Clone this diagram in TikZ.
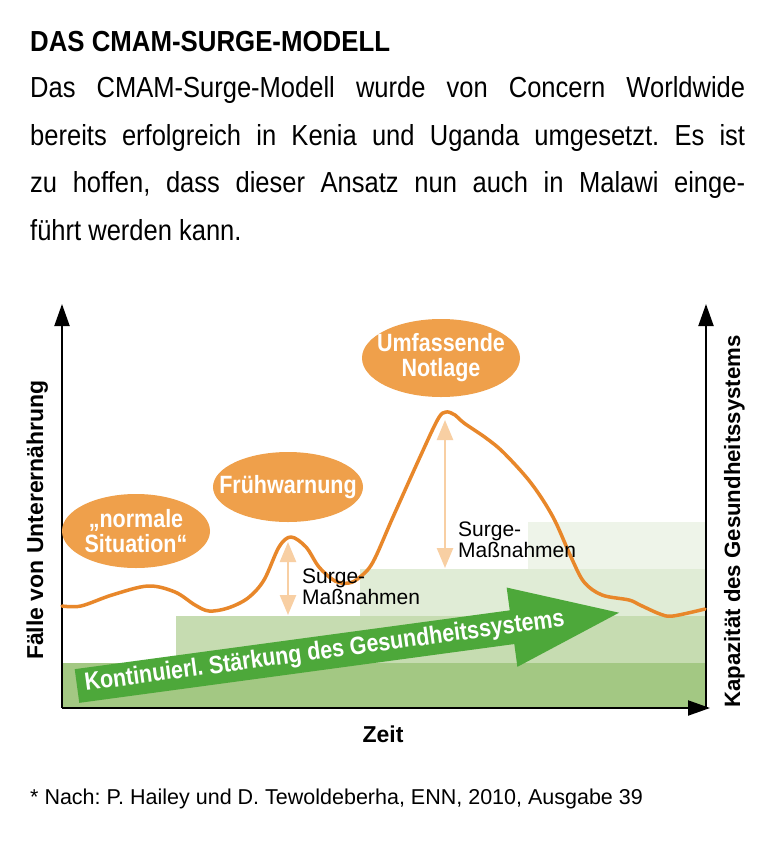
\documentclass[tikz,border=0pt]{standalone}
\usepackage{fontspec}
\setmainfont{Liberation Sans}
\newfontfamily\bodyfont[FakeStretch=0.88]{Liberation Sans}
\newfontfamily\condfont[FakeStretch=0.86]{Liberation Sans}
\newfontfamily\titlefont[FakeStretch=0.89]{Liberation Sans}
\usetikzlibrary{arrows.meta,shapes.geometric}
\frenchspacing
\definecolor{curveor}{RGB}{232,135,42}
\definecolor{ellor}{RGB}{239,160,75}
\definecolor{peach}{RGB}{248,207,163}
\definecolor{arrgreen}{RGB}{77,168,58}
\definecolor{bandA}{RGB}{163,200,131}
\definecolor{bandB}{RGB}{198,220,177}
\definecolor{bandC}{RGB}{224,236,214}
\definecolor{bandD}{RGB}{238,244,233}
\begin{document}
\begin{tikzpicture}[x=1pt,y=-1pt,
  axis/.style={line width=2pt,-{Triangle[width=15pt,length=22pt]}},
  bubble/.style={ellipse, fill=ellor, inner sep=0pt},
  bubtxt/.style={text=white, font=\condfont\bfseries\fontsize{25}{25}\selectfont, align=center, inner sep=0pt},
  surge/.style={line width=2.5pt, draw=peach, {Triangle[width=16pt,length=20pt]}-{Triangle[width=16pt,length=20pt]}},
  surgetxt/.style={font=\fontsize{21}{21}\selectfont, inner sep=0pt, anchor=base west},
  para/.style={font=\bodyfont\fontsize{29}{29}\selectfont, inner sep=0pt, anchor=base west},
  axlabel/.style={font=\bfseries\fontsize{23}{23}\selectfont, inner sep=0pt}
]
\useasboundingbox (0,0) rectangle (772,844);
\fill[white] (0,0) rectangle (772,844);

% heading and paragraph
\node[inner sep=0pt, anchor=base west, font=\titlefont\bfseries\fontsize{29}{29}\selectfont] (title) at (30,51) {DAS CMAM-SURGE-MODELL};
\node[para] (l1) at (30,97.5) {\makebox[715pt][s]{Das CMAM-Surge-Modell wurde von Concern Worldwide}};
\node[para] (l2) at (30,145.5) {\makebox[715pt][s]{bereits erfolgreich in Kenia und Uganda umgesetzt. Es ist}};
\node[para] (l3) at (30,192.5) {\makebox[715pt][s]{zu hoffen, dass dieser Ansatz nun auch in Malawi einge-}};
\node[para] (l4) at (30,240) {führt werden kann.};

% capacity bands
\fill[bandA] (62,663) rectangle (706,708);
\fill[bandB] (176,616) rectangle (706,663);
\fill[bandC] (360,569) rectangle (706,616);
\fill[bandD] (528,522) rectangle (706,569);

% green arrow
\begin{scope}[shift={(77,686)}, rotate=7.7]
  \fill[arrgreen] (0,-17) -- (439,-17) -- (439,-40) -- (547,0) -- (439,40) -- (439,17) -- (0,17) -- cycle;
  \node[transform shape, anchor=base, inner sep=0pt, text=white, font=\condfont\bfseries\fontsize{25}{25}\selectfont] (gtxt) at (250,6) {Kontinuierl. Stärkung des Gesundheitssystems};
\end{scope}

% axes
\coordinate (O) at (62,708);
\coordinate (ytop) at (62,304);
\coordinate (xend) at (710,708);
\coordinate (rbot) at (706,708);
\coordinate (rtop) at (706,304);
\draw[axis] (O) -- (ytop);
\draw[axis] (rbot) -- (rtop);
\draw[axis] (O) -- (xend);

% surge arrows
\coordinate (s1t) at (288,542);
\coordinate (s1b) at (288,615);
\coordinate (s2t) at (445,420);
\coordinate (s2b) at (445,568);
\draw[surge] (s1t) -- (s1b);
\draw[surge] (s2t) -- (s2b);

% malnutrition curve
\draw[curveor, line width=3.5pt, line cap=round, line join=round] plot[smooth, tension=0.55] coordinates {
 (62,606) (81,606) (112,595) (148,586) (175,592) (195,605) (209,611) (228,608)
 (248,598) (264,580) (279,547) (291,537) (306,547) (319,567) (335,581) (349,583)
 (360,577) (373,562) (393,517) (420,457) (438,419) (446,412) (455,415) (464,423)
 (486,438) (504,453) (531,483) (553,517) (571,557) (584,582) (602,595) (629,600)
 (640,605) (660,614) (673,616) (705,609)};

\node[surgetxt] (m1a) at (302,583) {Surge-};
\node[surgetxt] (m1b) at (302,604.5) {Maßnahmen};
\node[surgetxt] (m2a) at (458,536.5) {Surge-};
\node[surgetxt] (m2b) at (458,557) {Maßnahmen};

% bubbles
\node[bubble, minimum width=148pt, minimum height=74pt] (e1) at (136,531) {};
\node[bubtxt] (t1) at (e1) {„normale\\Situation“};
\node[bubble, minimum width=150pt, minimum height=70pt] (e2) at (288,487) {};
\node[bubtxt] (t2) at (e2) {Frühwarnung};
\node[bubble, minimum width=158pt, minimum height=78pt] (e3) at (441,358) {};
\node[bubtxt] (t3) at (e3) {Umfassende\\Notlage};

% axis labels
\node[axlabel, rotate=90, anchor=base] (ylab) at (43,520) {Fälle von Unterernährung};
\node[axlabel, rotate=90, anchor=base, font=\bfseries\fontsize{22.2}{22.2}\selectfont] (rlab) at (740,521.5) {Kapazität des Gesundheitssystems};
\node[axlabel, anchor=base] (xlab) at (383,742) {Zeit};

% footnote
\node[inner sep=0pt, anchor=base west, font=\fontsize{21.5}{21.5}\selectfont] (fn) at (30,804) {* Nach: P. Hailey und D. Tewoldeberha, ENN, 2010, Ausgabe 39};
\end{tikzpicture}
\end{document}
